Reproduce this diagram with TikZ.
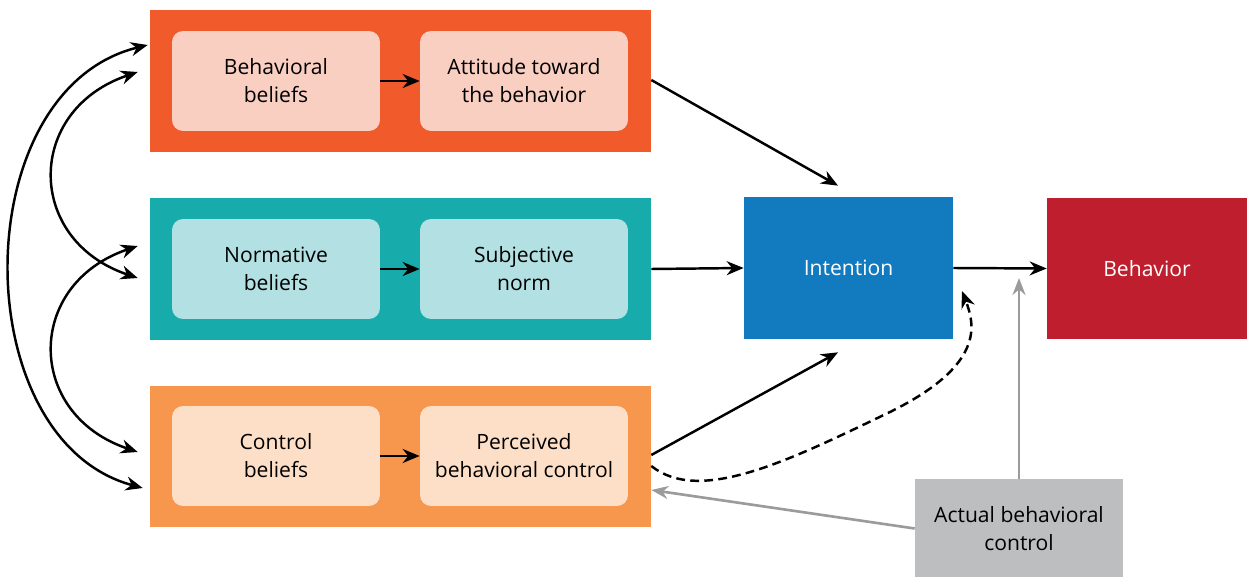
\documentclass[tikz,border=0pt]{standalone}
\usepackage{fontspec}
\setmainfont{Open Sans}
\usetikzlibrary{positioning,arrows.meta,calc}
\definecolor{attcol}{HTML}{F15A2B}
\definecolor{attlight}{HTML}{F9CFC2}
\definecolor{normcol}{HTML}{17ABAB}
\definecolor{normlight}{HTML}{B3E0E2}
\definecolor{ctrlcol}{HTML}{F7964D}
\definecolor{ctrllight}{HTML}{FDDFC7}
\definecolor{intcol}{HTML}{127BC0}
\definecolor{behcol}{HTML}{BE1E2D}
\definecolor{actcol}{HTML}{BCBEC0}
\definecolor{greyarrow}{HTML}{9A9B9D}
\begin{document}
\begin{tikzpicture}[x=0.02cm, y=-0.02cm, font=\fontsize{12}{16}\selectfont,
    band/.style={minimum width=10.02cm, minimum height=2.84cm, inner sep=0pt},
    inbox/.style={rounded corners=0.22cm, minimum width=4.16cm, minimum height=2cm, align=center, inner sep=0pt},
    outbox/.style={minimum height=2.84cm, align=center, inner sep=0pt, text=white},
    link/.style={-{Stealth[length=3.4mm,width=2.8mm]}, line width=1.4pt},
    both/.style={{Stealth[length=3.4mm,width=2.8mm]}-{Stealth[length=3.4mm,width=2.8mm]}, line width=1.4pt},
    glink/.style={-{Stealth[length=3.4mm,width=2.6mm]}, line width=1.5pt, greyarrow}]
    \useasboundingbox (0,0) rectangle (1247,577);
    % three bands
    \node[band, fill=attcol] (att) at (400.5,81) {};
    \node[band, fill=normcol] (norm) at (400.5,269) {};
    \node[band, fill=ctrlcol] (ctrl) at (400.5,456.5) {};
    \node[inbox, fill=attlight] (bb) at (276,81) {Behavioral\\beliefs};
    \node[inbox, fill=attlight] (atb) at (524,81) {Attitude toward\\the behavior};
    \node[inbox, fill=normlight] (nb) at (276,269) {Normative\\beliefs};
    \node[inbox, fill=normlight] (sn) at (524,269) {Subjective\\norm};
    \node[inbox, fill=ctrllight] (cb) at (276,456) {Control\\beliefs};
    \node[inbox, fill=ctrllight] (pbc) at (524,456) {Perceived\\behavioral control};
    \draw[link] (bb) -- (atb);
    \draw[link] (nb) -- (sn);
    \draw[link] (cb) -- (pbc);
    % right side
    \node[outbox, fill=intcol, minimum width=4.18cm] (int) at (848.5,268) {Intention};
    \node[outbox, fill=behcol, minimum width=4cm] (beh) at (1147,268.5) {Behavior};
    \node[outbox, fill=actcol, text=black, minimum width=4.16cm, minimum height=1.98cm] (act) at (1019,528.5) {Actual behavioral\\control};
    \draw[link] ([yshift=0.02cm]att.east) -- ([xshift=-0.21cm,yshift=0.22cm]int.north);
    \draw[link] (norm.east) -- (int.west);
    \draw[link] ([yshift=0.03cm]ctrl.east) -- ([xshift=-0.21cm,yshift=-0.26cm]int.south);
    \draw[link] (int.east) -- (beh.west);
    \draw[link, dashed, dash pattern=on 5pt off 3pt] ([yshift=-0.19cm]ctrl.east) .. controls (700,505) and (790,460) .. (890,412) .. controls (985,365) and (975,325) .. (962,291);
    \draw[glink] (act.north) -- (1019,278);
    \draw[glink] (act.west) -- ([yshift=-0.67cm]ctrl.east);
    % correlations on the left
    \draw[both] ([xshift=-0.04cm,yshift=0.72cm]att.west) .. controls (-35,90) and (-35,440) .. ([xshift=-0.14cm,yshift=-0.63cm]ctrl.west);
    \draw[both] ([xshift=-0.24cm,yshift=0.18cm]att.west) .. controls (25,110) and (25,240) .. ([xshift=-0.24cm,yshift=-0.18cm]norm.west);
    \draw[both] ([xshift=-0.24cm,yshift=0.46cm]norm.west) .. controls (25,284) and (25,414) .. ([xshift=-0.24cm,yshift=0.09cm]ctrl.west);
\end{tikzpicture}
\end{document}
